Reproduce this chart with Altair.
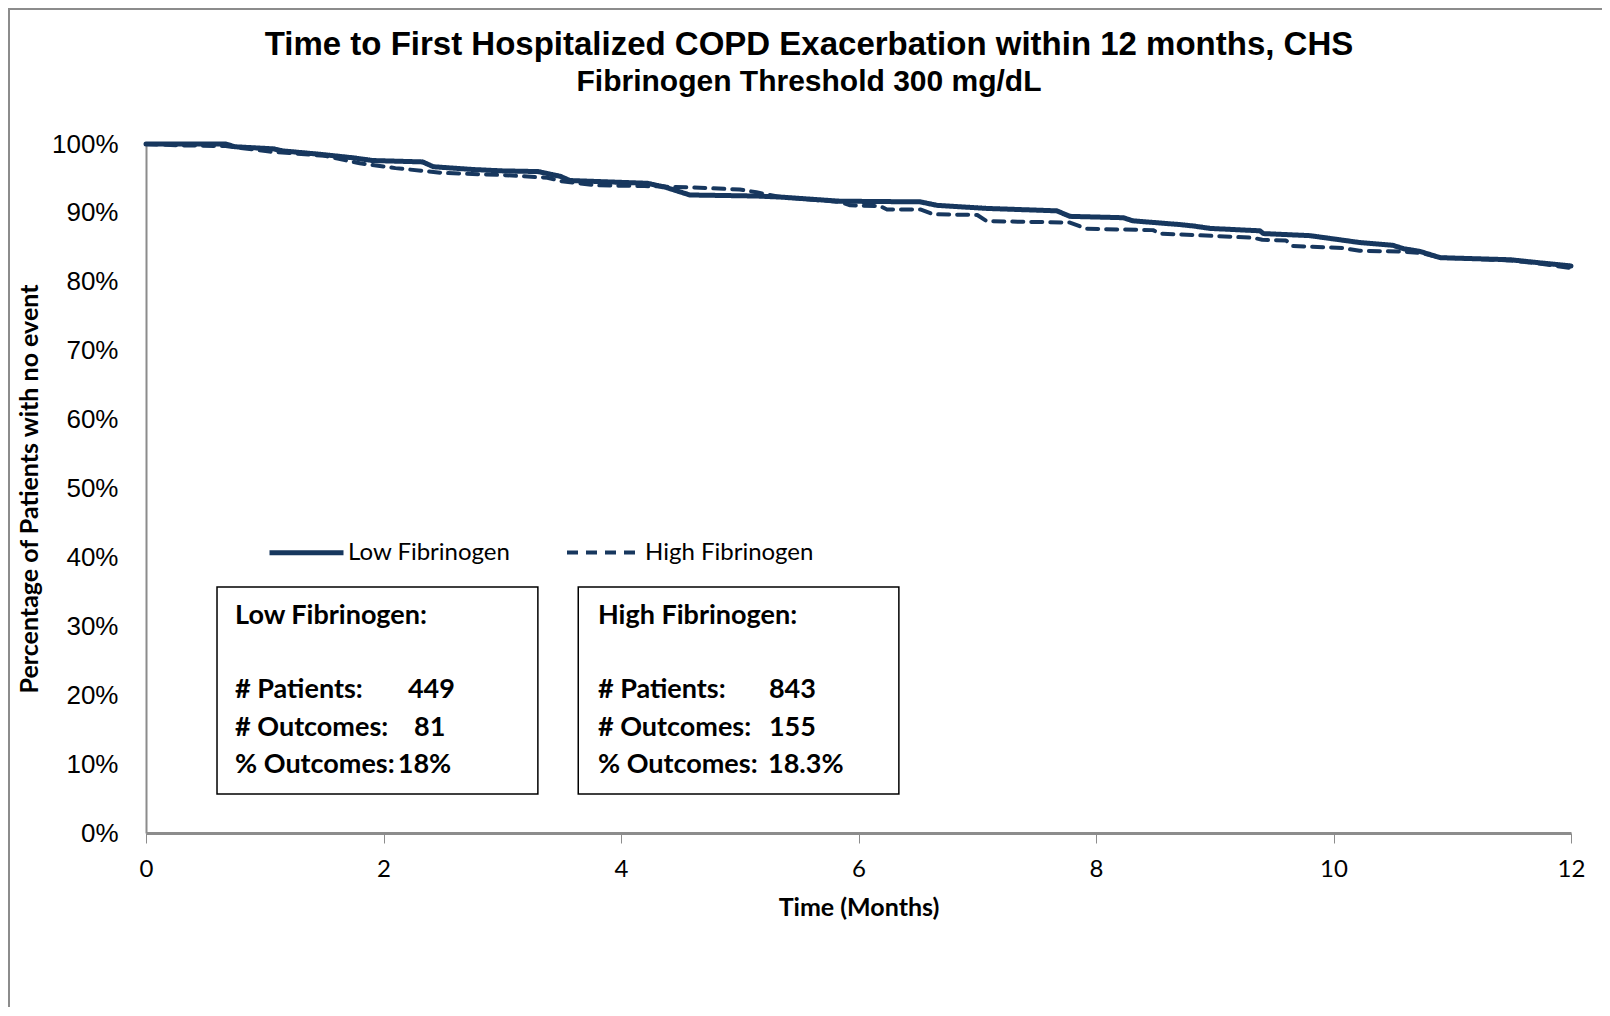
import altair as alt
import pandas as pd

NAVY = "#17375E"
GRAY = "#8C8C8C"

# ---- data ----
series_names = ["Low Fibrinogen", "High Fibrinogen"]

low_t = [0, 0.67, 0.75, 1.07, 1.15, 1.47, 1.74, 1.91, 2.33, 2.42, 2.75, 3.00, 3.30, 3.49, 3.57,
         4.22, 4.38, 4.58, 5.14, 5.34, 5.84, 6.52, 6.66, 7.08, 7.67, 7.78, 8.23, 8.31, 8.71,
         8.82, 8.96, 9.38, 9.41, 9.80, 10.22, 10.50, 10.59, 10.73, 10.90, 11.49, 11.71, 12.00]
low_s = [100, 100, 99.6, 99.3, 99.0, 98.5, 98.0, 97.6, 97.4, 96.7, 96.3, 96.1, 96.0, 95.3, 94.7,
         94.3, 93.7, 92.6, 92.45, 92.3, 91.7, 91.6, 91.1, 90.65, 90.3, 89.5, 89.3, 88.85, 88.3,
         88.1, 87.75, 87.4, 87.0, 86.7, 85.7, 85.3, 84.8, 84.4, 83.5, 83.2, 82.8, 82.3]

high_t = [0, 0.30, 0.67, 1.04, 1.50, 1.80, 2.10, 2.50, 3.00, 3.38, 3.50, 3.80, 4.20, 4.40, 4.60,
          5.00, 5.14, 5.34, 5.84, 5.93, 6.18, 6.24, 6.52, 6.63, 7.00, 7.08, 7.78, 7.92, 8.48,
          8.54, 9.32, 9.40, 9.60, 9.66, 10.08, 10.22, 10.56, 10.73, 10.90, 11.49, 11.71, 12.00]
high_s = [100, 99.8, 99.7, 98.9, 98.3, 97.2, 96.5, 95.8, 95.5, 95.1, 94.6, 94.0, 93.9, 93.8, 93.7,
          93.4, 93.0, 92.3, 91.6, 91.1, 91.0, 90.5, 90.5, 89.8, 89.7, 88.8, 88.6, 87.7, 87.5,
          87.0, 86.4, 86.1, 86.0, 85.2, 84.9, 84.5, 84.4, 84.2, 83.5, 83.1, 82.7, 82.0]

x_ticks = [0, 2, 4, 6, 8, 10, 12]
y_ticks = [0, 0.1, 0.2, 0.3, 0.4, 0.5, 0.6, 0.7, 0.8, 0.9, 1.0]

title_lines = ["Time to First Hospitalized COPD Exacerbation within 12 months, CHS",
               "Fibrinogen Threshold 300 mg/dL"]

# info boxes (months / fraction of patients)
box_x0 = [0.598, 3.64]
box_x1 = [3.30, 6.34]
box_y0 = [0.0566, 0.0566]
box_y1 = [0.357, 0.357]

box_titles = ["Low Fibrinogen:", "High Fibrinogen:"]
box_text_x = [0.75, 3.806]
row_labels = ["# Patients:", "# Outcomes:", "% Outcomes:"]
row_y = [0.2075, 0.1524, 0.0987]
title_y = 0.315
low_values = ["449", "81", "18%"]
low_value_x = [2.206, 2.257, 2.12]
high_values = ["843", "155", "18.3%"]
high_value_x = [5.246, 5.246, 5.238]

# ---- tables ----
lines_df = pd.concat([
    pd.DataFrame({"t": low_t, "s": [v / 100 for v in low_s], "group": series_names[0]}),
    pd.DataFrame({"t": high_t, "s": [v / 100 for v in high_s], "group": series_names[1]}),
])

boxes_df = pd.DataFrame({"x0": box_x0, "x1": box_x1, "y0": box_y0, "y1": box_y1})

txt_rows = []
for i, ttl in enumerate(box_titles):
    txt_rows.append({"x": box_text_x[i], "y": title_y, "text": ttl})
    for j, lab in enumerate(row_labels):
        txt_rows.append({"x": box_text_x[i], "y": row_y[j], "text": lab})
for j, v in enumerate(low_values):
    txt_rows.append({"x": low_value_x[j], "y": row_y[j], "text": v})
for j, v in enumerate(high_values):
    txt_rows.append({"x": high_value_x[j], "y": row_y[j], "text": v})
txt_df = pd.DataFrame(txt_rows)

xscale = alt.Scale(domain=[0, 12], nice=False, zero=False)
yscale = alt.Scale(domain=[0, 1], nice=False)

lines = alt.Chart(lines_df).mark_line(
    color=NAVY, strokeCap="round", strokeJoin="round"
).encode(
    x=alt.X("t:Q", scale=xscale,
            axis=alt.Axis(values=x_ticks, title="Time (Months)", format="d")),
    y=alt.Y("s:Q", scale=yscale,
            axis=alt.Axis(values=y_ticks, format=".0%",
                          title="Percentage of Patients with no event")),
    strokeDash=alt.StrokeDash(
        "group:N",
        scale=alt.Scale(domain=series_names, range=[[1, 0], [11, 8]]),
        legend=alt.Legend(title=None),
    ),
    strokeWidth=alt.StrokeWidth(
        "group:N",
        scale=alt.Scale(domain=series_names, range=[5, 4]),
        legend=alt.Legend(title=None),
    ),
    order="t:Q",
)

boxes = alt.Chart(boxes_df).mark_rect(
    fill="white", stroke="black", strokeWidth=1.5
).encode(
    x="x0:Q", x2="x1:Q", y="y0:Q", y2="y1:Q"
)

texts = alt.Chart(txt_df).mark_text(
    align="left", baseline="middle", font="Lato", fontWeight="bold",
    fontSize=27, color="black"
).encode(x="x:Q", y="y:Q", text="text:N")

one = pd.DataFrame({"a": [0]})

frame = alt.Chart(one).mark_rect(
    fill=None, stroke=GRAY, strokeWidth=2
).encode(
    x=alt.value(-137), y=alt.value(-135), x2=alt.value(3000), y2=alt.value(3000)
)

title1 = alt.Chart(one).mark_text(
    align="center", baseline="middle", font="Liberation Sans", fontWeight="bold",
    fontSize=33, color="black"
).encode(x=alt.value(663), y=alt.value(-99), text=alt.value(title_lines[0]))

title2 = alt.Chart(one).mark_text(
    align="center", baseline="middle", font="Liberation Sans", fontWeight="bold",
    fontSize=30, color="black"
).encode(x=alt.value(663), y=alt.value(-62), text=alt.value(title_lines[1]))

chart = alt.layer(frame, title1, title2, boxes, texts, lines).properties(
    width=1425,
    height=689,
    autosize=alt.AutoSizeParams(type="none"),
    padding={"left": 138, "top": 136, "right": 31, "bottom": 174},
).configure_view(
    stroke=None
).configure_axisX(
    domainColor=GRAY, domainWidth=3, tickColor=GRAY, tickSize=10, tickWidth=1,
    labelFont="Lato", labelFontSize=24, labelColor="black", labelPadding=14,
    labelFlush=False,
    grid=False, titleFont="Lato", titleFontSize=25, titleFontWeight="bold",
    titleColor="black", titlePadding=14,
).configure_axisY(
    domainColor=GRAY, domainWidth=2, ticks=False, tickSize=0,
    labelFont="Liberation Sans", labelFontSize=26, labelColor="black", labelPadding=28,
    grid=False, titleFont="Lato", titleFontSize=25, titleFontWeight="bold",
    titleColor="black", titlePadding=9,
).configure_legend(
    orient="none", legendX=121, legendY=369, direction="horizontal",
    symbolType="stroke", symbolSize=5476, symbolStrokeColor=NAVY,
    labelFont="Lato", labelFontSize=24, labelColor="black", labelOffset=2,
    labelLimit=0, columnPadding=48, padding=0,
)

chart.save("out.html", embed_options={"renderer": "svg", "actions": False})
